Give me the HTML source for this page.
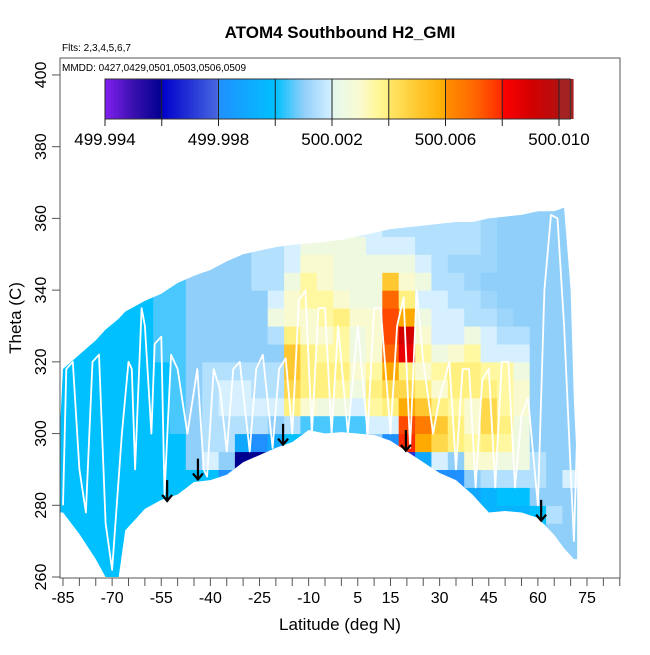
<!DOCTYPE html>
<html><head><meta charset="utf-8">
<style>
html,body{margin:0;padding:0;background:#fff;}
svg text{font-family:"Liberation Sans",sans-serif;}
</style></head>
<body>
<svg id="chart" width="650" height="650" viewBox="0 0 650 650">
  <defs>
    <clipPath id="envClip"><path id="envPath" d=""/></clipPath>
    <clipPath id="plotClip"><rect x="60" y="58" width="560" height="520"/></clipPath>
  </defs>
  <text x="340" y="38" text-anchor="middle" font-size="17" font-weight="bold">ATOM4 Southbound H2_GMI</text>
  <text x="62" y="51" font-size="10">Flts: 2,3,4,5,6,7</text>
  <g id="heat" clip-path="url(#envClip)"></g>
  <g id="tracks" clip-path="url(#plotClip)"></g>
  <g id="arrows"></g>
  <rect x="60" y="58" width="560" height="520" fill="none" stroke="#555" stroke-width="1"/>
  <text x="62" y="71" font-size="10">MMDD: 0427,0429,0501,0503,0506,0509</text>
  <g id="colorbar"></g>
  <g id="xaxis"></g>
  <g id="yaxis"></g>
  <text x="340" y="630" text-anchor="middle" font-size="17">Latitude (deg N)</text>
  <text transform="translate(21,318) rotate(-90)" text-anchor="middle" font-size="17">Theta (C)</text>
</svg>
<script>
// ---- data ----
const latCenters = [-85,-80,-75,-70,-65,-60,-55,-50,-45,-40,-35,-30,-25,-20,-15,-10,-5,0,5,10,15,20,25,30,35,40,45,50,55,60,65,70];
const thetaBins = [260,265,270,275,280,285,290,295,300,305,310,315,320,325,330,335,340,345,350,355,360];
// H2 anomaly in units of 0.001 ppb above 500 (value = 500 + v/1000), rows follow thetaBins
const h2Milli = [
 [0,0,0,0,0,0,0,0,0,0,0,0,0,0,0,0,0,0,0,0,0,0,0,0,0,0,0,0,0,0.5,1,1],
 [0,0,0,0,0,0,0,0,0,0,0,0,0,0,0,0,0,0,0,0,0,0,0,0,0,0,0,0,0,0.5,1,1],
 [0,0,0,0,0,0,0,0,0,0,0,0,0,0,0,0,0,0,0,0,0,0,0,0,0,0,0,0,0,0.5,1,1],
 [0,0,0,0,0,0,0,0,0,0,0,0,0,0,0,0,0,0,0,0,0,0,0,0,0,0,-0.5,-0.5,-0.5,0,1.5,1],
 [0,0,0,0,0,0,0,0,0,0,0,0,0,0,0,0,0,0,0,0,0,0,0,0,-1,-1,-0.5,0,0,1,1,1],
 [0,0,0,0,0,0,0,0,0,0,-2,-2,-2,0,0,0,0,0,0,0,0,0,0,-2,-2,1,1.5,1.5,1.5,1.5,1,2],
 [0,0,0,0,0,0,0,0,1,2,1,-4,-4,-2,0,0,0,0,0,0,-2,-3,-1,2,1,3,3,2.5,2.5,1.5,1,1],
 [0,0,0,0,0,0,0,0,1,1.5,1.5,-1,-2,-1,0,0,0,0,0,1,-2,8,6,4.5,4,3.5,4,3.5,2.5,1,1,1],
 [0,0,0,0,0,0,0,0.5,1,1.5,1.5,1.5,1.5,1,1.5,0.5,0.5,0.5,0.5,2,2,7.5,6.5,5,4,3,4.5,4,2.5,1,1,1],
 [0,0,0,0,0,0,0,0.5,1,1.5,2,2,2,2,4,3,2.5,2.5,2,3.5,4,6,5,4,3.5,3,4.5,3.5,3,1,1,1],
 [0,0,0,0,0,0,0,0.5,1,1.5,2,2,1.5,1.5,4.5,4,4,3.5,2.5,4,4.5,4.5,4,3,4,4,4,3.5,3,1,1,1],
 [0,0,0,0,0,0,0,0.5,1,1.5,1.5,1.5,1.5,1.5,5,4,4,4,3,3.5,6,4,3,3.5,4,4,3.5,3.5,2.5,1,1,1],
 [0,0,0,0,0,0,0.5,0.5,1,1,1,1,1,1,5,4,3.5,3.5,2.5,3,7,8.5,3.5,2.5,3,3.5,2,2,2,1,1,1],
 [0,0,0,0,0,0,0.5,0.5,1,1,1,1,1,1.5,4,3,3,3.5,2.5,3,7.5,9,3,2,2,2.5,2,1.5,1.5,1,1,1],
 [0,0,0,0,0,0,0.5,0.5,1,1,1,1,1,2.5,3,3,3.5,4,3,3,7.5,6,2.5,2,2,1.5,1.5,1.2,1,1,1,1],
 [0,0,0,0,0,0,0.5,0.5,1,1,1,1,1,2,3,3.5,3.5,3,2.5,2.5,7,4,2,2,1.5,1.5,1.2,1,1,1,1,1],
 [0,0,0,0,0,0,0.5,0.5,1,1,1,1,1.5,1.5,2.5,3.5,3,2.5,2.5,2.5,5,3,2.5,1.5,1.5,1.2,1,1,1,1,1,1],
 [0,0,0,0,0,0,0.5,0.5,1,1,1,1,1.5,1.5,2,3,3,2.5,2.5,2.5,2.5,2.5,2,1.5,1.2,1.2,1.2,1,1,1,1,1],
 [0,0,0,0,0,0,0.5,0.5,1,1,1,1,1.5,1.5,2,2.5,2.5,2.5,2.5,2,2,2,1.5,1.5,1.5,1.5,1.2,1,1,1,1,1],
 [0,0,0,0,0,0,0.5,0.5,1,1,1,1,1.5,1.5,2,2.5,2.5,2.5,2,2,1.5,1.5,1.5,1.5,1.5,1.5,1.2,1,1,1,1,1],
 [0,0,0,0,0,0,0.5,0.5,1,1,1,1,1.5,1.5,2,2.5,2.5,2.5,2,2,1.5,1.5,1.5,1.5,1.5,1.5,1.2,1,1,1,1,1]
];
// sampled data envelope (lat, lowest theta, highest theta)
const envLat =    [-86,-85,-80,-75,-72,-68,-66,-60,-55,-50,-45,-40,-35,-30,-25,-20,-15,-10,-5,0,5,10,15,20,25,30,35,40,45,50,55,60,65,68,70,71,72];
const envBottom = [278,278,272,265,260,260,273,279,281.5,283,286.5,287,288.5,292,294,296,297.6,301,300,300.4,300,299.6,298,295,292,289,287,283,278,278.4,278,276.5,271.7,268,266,265,265];
const envTop =    [300,318,322,326,329,332,334,337,339,342,344,345.6,348,350,351,352,352.6,353,353.5,354,355,356,357,357.5,358,358.5,359,359,360,360.5,361,362,362,363,340,309,290];
// flight track (lat, theta)
const trackLat =   [-85,-84,-82,-80,-78,-76,-74,-72,-70,-67,-65,-64,-63,-61,-60,-58,-57,-55,-54,-52,-50,-47,-44,-42,-41,-39,-37,-35,-33,-31,-28,-26,-24,-21,-19,-17,-15,-13,-11,-9,-7,-5,-3,-1,2,5,8,10,12,15,17,19,21,23,25,28,30,33,35,37,39,41,43,45,47,49,51,53,55,57,60,62,64,66,68,70,71,72];
const trackTheta = [280,318,320,290,278,320,322,275,262,300,320,318,290,335,330,300,325,327,283,322,318,300,318,290,288,318,312,295,318,320,295,318,322,296,318,321,300,337,340,300,335,335,300,330,300,330,300,335,335,300,330,338,296,340,320,300,310,320,290,318,318,285,315,318,285,320,320,285,305,310,280,340,361,360,330,290,270,300];
// arrows (lat, top theta)
const arrowLat = [-53.2,-43.8,-17.8,19.7,61];
const arrowTheta = [287,293,302.7,301,281.5];
// axes
const xTicks = [-85,-80,-75,-70,-65,-60,-55,-50,-45,-40,-35,-30,-25,-20,-15,-10,-5,0,5,10,15,20,25,30,35,40,45,50,55,60,65,70,75,80,85];
const xLabels = [-85,-70,-55,-40,-25,-10,5,15,30,45,60,75];
const yTicks = [260,280,300,320,340,360,380,400];
const cbTicks = [499.994,499.996,499.998,500.000,500.002,500.004,500.006,500.008,500.010];
const cbLabels = [499.994,499.998,500.002,500.006,500.010];

// ---- scales ----
const NS='http://www.w3.org/2000/svg';
function xs(lat){return 63+(lat+85)*3.275;}
function ys(t){return 577-(t-260)*3.586;}
const stops=[[-6,'#8020f0'],[-5,'#3a10b0'],[-4,'#00008e'],[-3.99,'#0000cc'],[-2.01,'#4868e0'],[-2,'#2090ff'],[0,'#00c0ff'],[1,'#90cffa'],[2,'#d6f0ff'],[2.01,'#e4f8f0'],[3,'#fafad0'],[3.5,'#fff8a0'],[4,'#fff080'],[4.01,'#ffe868'],[5,'#ffc830'],[6,'#ffaa00'],[6.01,'#ff9000'],[7,'#ff6800'],[8,'#ff2a00'],[8.01,'#ff0000'],[9,'#d40000'],[10,'#b41010'],[10.01,'#a52222'],[11,'#a52222']];
function hex(c){return [1,3,5].map(i=>parseInt(c.substr(i,2),16));}
function col(v){
  if(v<=stops[0][0])return stops[0][1];
  for(let i=1;i<stops.length;i++){
    if(v<=stops[i][0]){
      const a=stops[i-1],b=stops[i],f=(v-a[0])/(b[0]-a[0]);
      const ca=hex(a[1]),cb=hex(b[1]);
      return 'rgb('+ca.map((x,k)=>Math.round(x+(cb[k]-x)*f)).join(',')+')';
    }
  }
  return stops[stops.length-1][1];
}
function mk(tag,attrs,parent){const e=document.createElementNS(NS,tag);for(const k in attrs)e.setAttribute(k,attrs[k]);parent.appendChild(e);return e;}

// envelope clip
let d='M'+xs(envLat[0])+','+ys(envBottom[0]);
for(let i=1;i<envLat.length;i++)d+=' L'+xs(envLat[i])+','+ys(envBottom[i]);
for(let i=envLat.length-1;i>=0;i--)d+=' L'+xs(envLat[i])+','+ys(envTop[i]);
document.getElementById('envPath').setAttribute('d',d+' Z');

// heatmap cells
const heat=document.getElementById('heat');
thetaBins.forEach((t,r)=>{
  latCenters.forEach((lat,c)=>{
    const x0=xs(lat-2.5),x1=xs(lat+2.5),y0=ys(t+5),y1=ys(t);
    const el=mk('rect',{x:x0.toFixed(1),y:y0.toFixed(1),width:(x1-x0+0.6).toFixed(1),height:(y1-y0+0.6).toFixed(1),fill:col(h2Milli[r][c])},heat);
    
    
  });
});

// track
const trk=document.getElementById('tracks');
const tl=mk('polyline',{points:trackLat.map((l,i)=>xs(l).toFixed(1)+','+ys(trackTheta[i]).toFixed(1)).join(' '),fill:'none',stroke:'#fff','stroke-width':'1.8','stroke-linejoin':'round'},trk);



// arrows
const arr=document.getElementById('arrows');
arrowLat.forEach((l,i)=>{
  const x=xs(l),yt=ys(arrowTheta[i]),yb=ys(arrowTheta[i]-5.8);
  const g=mk('path',{d:'M'+x+','+yt+' L'+x+','+yb+' M'+(x-5)+','+(yb-6)+' L'+x+','+yb+' L'+(x+5)+','+(yb-6),stroke:'#000','stroke-width':'2.2',fill:'none'},arr);
  
  
});

// colorbar
const cb=document.getElementById('colorbar');
const cbx=v=>105+(v-499.994)/0.002*56.75;
for(let v=-6;v<10.4;v+=0.1){
  const x0=cbx(500+v/1000);
  const r=mk('rect',{x:x0.toFixed(2),y:79,width:(0.1/2*56.75+0.4).toFixed(2),height:40,fill:col(v+0.05)},cb);
  
  
}
mk('rect',{x:105,y:79,width:cbx(500.0104)-105,height:40,fill:'none',stroke:'#333','stroke-width':1},cb);
cbTicks.forEach(v=>{
  const x=cbx(v);
  const l=mk('line',{x1:x,x2:x,y1:79,y2:126,stroke:'#222','stroke-width':1},cb);
  
  
});
cbLabels.forEach(v=>{
  const t=mk('text',{x:cbx(v),y:145,'text-anchor':'middle','font-size':17},cb);
  t.textContent=v.toFixed(3);
  
  
});

// axes
const xa=document.getElementById('xaxis');
xTicks.forEach(v=>{
  const l=mk('line',{x1:xs(v),x2:xs(v),y1:578,y2:586,stroke:'#555','stroke-width':1},xa);
  
  
});
xLabels.forEach(v=>{
  const t=mk('text',{x:xs(v),y:603,'text-anchor':'middle','font-size':16},xa);
  t.textContent=v;
  
  
});
const ya=document.getElementById('yaxis');
yTicks.forEach(v=>{
  const l=mk('line',{x1:52,x2:60,y1:ys(v),y2:ys(v),stroke:'#555','stroke-width':1},ya);
  
  
  const t=mk('text',{transform:'translate(46,'+ys(v)+') rotate(-90)','text-anchor':'middle','font-size':16},ya);
  t.textContent=v;
  
  
});
</script>
</body></html>
